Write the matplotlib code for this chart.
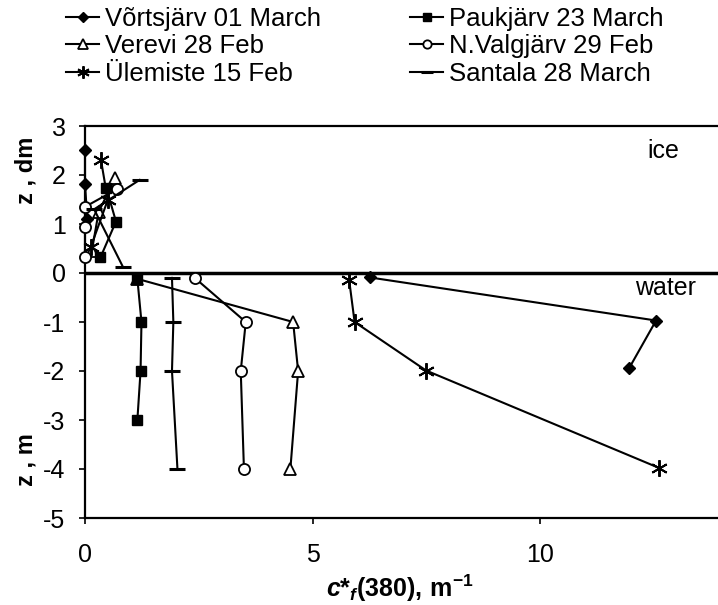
import matplotlib
matplotlib.use("Agg")
import matplotlib.pyplot as plt
from matplotlib.lines import Line2D
import matplotlib.transforms as mtransforms

plt.rcParams['font.family'] = ['Liberation Sans', 'DejaVu Sans']
plt.rcParams['axes.unicode_minus'] = False
plt.rcParams['mathtext.fontset'] = 'custom'
plt.rcParams['mathtext.rm'] = 'Liberation Sans:bold'
plt.rcParams['mathtext.it'] = 'Liberation Sans:italic:bold'
plt.rcParams['mathtext.bf'] = 'Liberation Sans:bold'

# ---- data (x = c*f(380) m^-1 ; z: positive = ice (dm), negative = water (m)) ----
vorts_ice_x = [0.0, 0.0, 0.05]
vorts_ice_z = [2.52, 1.82, 1.1]
vorts_w_x = [6.25, 12.54, 11.95]
vorts_w_z = [-0.09, -0.97, -1.94]

pauk_ice_x = [0.47, 0.68, 0.34]
pauk_ice_z = [1.73, 1.05, 0.32]
pauk_w_x = [1.15, 1.24, 1.22, 1.15]
pauk_w_z = [-0.12, -1.0, -2.0, -3.0]

verevi_ice_x = [0.66, 0.3, 0.15]
verevi_ice_z = [1.93, 1.25, 0.45]
verevi_w_x = [1.15, 4.57, 4.68, 4.51]
verevi_w_z = [-0.12, -1.0, -2.0, -4.0]

valg_ice_x = [0.7, 0.0, 0.0, 0.0]
valg_ice_z = [1.71, 1.35, 0.94, 0.33]
valg_w_x = [2.41, 3.53, 3.42, 3.49]
valg_w_z = [-0.1, -1.0, -2.0, -4.0]

ulem_ice_x = [0.35, 0.5, 0.13]
ulem_ice_z = [2.31, 1.49, 0.54]
ulem_w_x = [5.80, 5.92, 7.49, 12.61]
ulem_w_z = [-0.14, -1.0, -1.99, -3.98]

sant_ice_x = [1.2, 0.2, 0.83]
sant_ice_z = [1.9, 1.3, 0.13]
sant_w_x = [1.91, 1.94, 1.91, 2.03]
sant_w_z = [-0.1, -1.0, -2.0, -4.0]

labels = ["Võrtsjärv 01 March", "Verevi 28 Feb", "Ülemiste 15 Feb",
          "Paukjärv 23 March", "N.Valgjärv 29 Feb", "Santala 28 March"]
yticks = [-5, -4, -3, -2, -1, 0, 1, 2, 3]
xticks = [0, 5, 10]

fig = plt.figure(figsize=(7.18, 6.05), dpi=100)
ax = fig.add_axes([85/718, 87/605, 633/718, 392/605])

styles = {
    "vorts": dict(marker='D', ms=6.5, mfc='black', mec='black'),
    "pauk": dict(marker='s', ms=7.5, mfc='black', mec='black'),
    "verevi": dict(marker='^', ms=9, mfc='white', mec='black', mew=1.3),
    "valg": dict(marker='o', ms=8, mfc='white', mec='black', mew=1.3),
    "ulem": dict(marker=(6, 2, 0), ms=12, mfc='black', mec='black', mew=1.4),
    "sant": dict(marker='_', ms=12, mfc='black', mec='black', mew=2.2),
}
series = [
    ("vorts", vorts_ice_x, vorts_ice_z, vorts_w_x, vorts_w_z),
    ("verevi", verevi_ice_x, verevi_ice_z, verevi_w_x, verevi_w_z),
    ("ulem", ulem_ice_x, ulem_ice_z, ulem_w_x, ulem_w_z),
    ("pauk", pauk_ice_x, pauk_ice_z, pauk_w_x, pauk_w_z),
    ("valg", valg_ice_x, valg_ice_z, valg_w_x, valg_w_z),
    ("sant", sant_ice_x, sant_ice_z, sant_w_x, sant_w_z),
]
handles = []
for key, ix, iz, wx, wz in series:
    st = styles[key]
    ax.plot(ix, iz, color='black', lw=1.5, clip_on=False, zorder=3, **st)
    ax.plot(wx, wz, color='black', lw=1.5, clip_on=False, zorder=3, **st)
    hst = dict(st)
    hst['ms'] = st['ms'] * 0.75
    handles.append(Line2D([], [], color='black', lw=1.5, **hst))

ax.axhline(0, color='black', lw=2.5, zorder=2)
ax.set_xlim(0, 13.9)
ax.set_ylim(-5, 3)
ax.set_xticks(xticks)
ax.set_yticks(yticks)
ax.spines['right'].set_visible(False)
for s in ['left', 'top', 'bottom']:
    ax.spines[s].set_linewidth(1.6)
ax.tick_params(axis='both', direction='out', length=4, width=1.2, labelsize=18)
ax.tick_params(axis='y', pad=10)
ax.tick_params(axis='x', pad=14)

ax.text(12.7, 2.5, "ice", fontsize=18, ha='center', va='center')
ax.text(12.75, -0.31, "water", fontsize=18, ha='center', va='center')

trans = mtransforms.blended_transform_factory(fig.transFigure, ax.transData)
ax.text(26/718, 2.1, "z , dm", rotation=90, fontsize=17, fontweight='bold',
        ha='center', va='center', transform=trans)
ax.text(26/718, -3.8, "z , m", rotation=90, fontsize=17, fontweight='bold',
        ha='center', va='center', transform=trans)
fig.text(400/718, 1 - 588/605,
         r"$c\mathrm{*}_{f}\mathrm{(380),}\,\mathrm{m}^{\mathrm{-1}}$",
         fontsize=18, ha='center', va='center')

leg_kw = dict(loc='upper left', frameon=False, fontsize=18.5, handlelength=1.3,
              handletextpad=0.2, labelspacing=0.13, borderaxespad=0.0,
              borderpad=0.0)
leg1 = fig.legend(handles[:3], labels[:3], bbox_to_anchor=(66/718, 1 - 7/605), **leg_kw)
leg2 = fig.legend(handles[3:], labels[3:], bbox_to_anchor=(410/718, 1 - 7/605), **leg_kw)

fig.savefig("out.png", dpi=100)
